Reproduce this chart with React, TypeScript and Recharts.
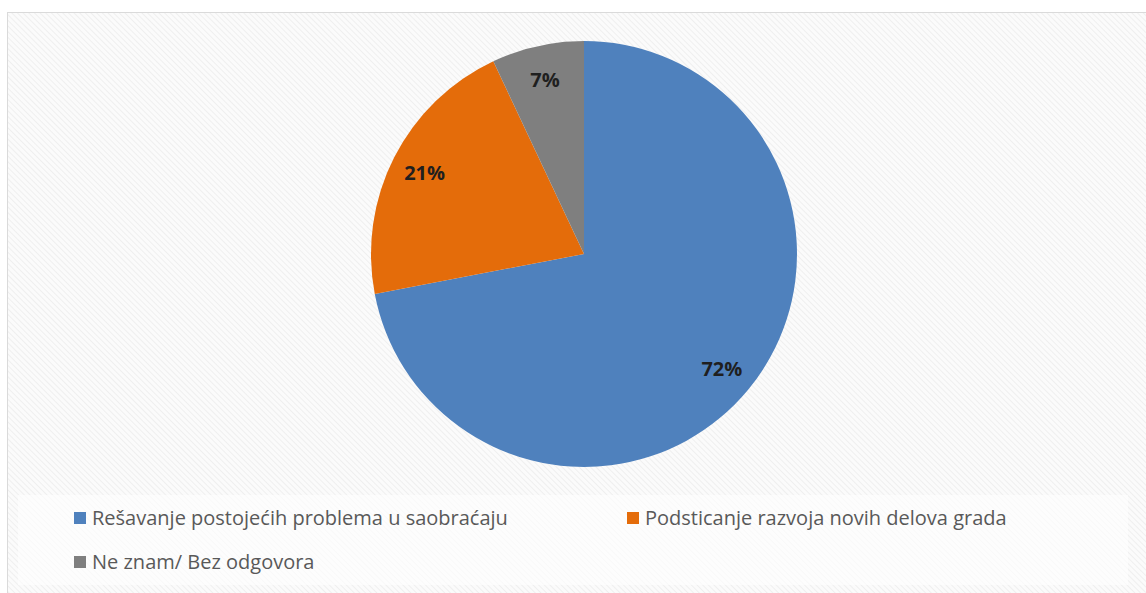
import { Cell, Legend, Pie, PieChart } from "recharts";

const CATEGORIES = [
  "Rešavanje postojećih problema u saobraćaju",
  "Podsticanje razvoja novih delova grada",
  "Ne znam/ Bez odgovora",
];
const VALUES = [72, 21, 7];
const COLORS = ["#4F81BD", "#E46C0A", "#7F7F7F"];

const data = CATEGORIES.map((name, i) => ({ name, value: VALUES[i] }));

const RADIAN = Math.PI / 180;
const FONT = "'Open Sans', 'Noto Sans', sans-serif";

function renderLabel(props: any) {
  const { cx, cy, midAngle, outerRadius, value } = props;
  const r = outerRadius * 0.84;
  const x = cx + r * Math.cos(-midAngle * RADIAN);
  const y = cy + r * Math.sin(-midAngle * RADIAN);
  return (
    <text
      x={x}
      y={y}
      fill="#1f1f1f"
      fontSize={20}
      fontWeight={700}
      fontFamily={FONT}
      textAnchor="middle"
      dominantBaseline="central"
    >
      {`${value}%`}
    </text>
  );
}

function LegendBox() {
  const item = (i: number, left: number, top: number) => (
    <div
      key={i}
      style={{
        position: "absolute",
        left,
        top,
        height: 24,
        display: "flex",
        alignItems: "center",
        whiteSpace: "nowrap",
      }}
    >
      <span
        style={{
          width: 12,
          height: 12,
          background: COLORS[i],
          marginRight: 6,
          display: "inline-block",
        }}
      />
      <span style={{ color: "#595959", fontSize: 20, fontFamily: FONT, lineHeight: "24px" }}>
        {CATEGORIES[i]}
      </span>
    </div>
  );
  return (
    <div
      style={{
        position: "absolute",
        left: 18,
        top: 495,
        width: 1110,
        height: 90,
        background: "rgba(255,255,255,0.6)",
      }}
    >
      {item(0, 56, 11)}
      {item(1, 609, 11)}
      {item(2, 56, 55)}
    </div>
  );
}

export default function App() {
  return (
    <div
      style={{
        position: "absolute",
        left: 0,
        top: 0,
        width: 1146,
        height: 593,
        overflow: "hidden",
        background: "#ffffff",
      }}
    >
      <div
        style={{
          position: "absolute",
          left: 7,
          top: 12,
          width: 1160,
          height: 600,
          border: "1px solid #dadada",
          background:
            "repeating-linear-gradient(45deg, #fbfbfb 0px, #fbfbfb 2px, #efefef 3px, #fbfbfb 4px)",
        }}
      />
      <div style={{ position: "absolute", left: 0, top: 0 }}>
        <PieChart width={1146} height={593} margin={{ top: 0, right: 0, bottom: 0, left: 0 }}>
          <Pie
            data={data}
            dataKey="value"
            nameKey="name"
            cx={584}
            cy={254}
            outerRadius={213}
            startAngle={90}
            endAngle={-270}
            stroke="none"
            label={renderLabel}
            labelLine={false}
            isAnimationActive={false}
          >
            {data.map((d, i) => (
              <Cell key={d.name} fill={COLORS[i]} />
            ))}
          </Pie>
          <Legend
            content={() => <LegendBox />}
            wrapperStyle={{ position: "absolute", left: 0, top: 0, width: 1146, height: 593 }}
          />
        </PieChart>
      </div>
    </div>
  );
}
